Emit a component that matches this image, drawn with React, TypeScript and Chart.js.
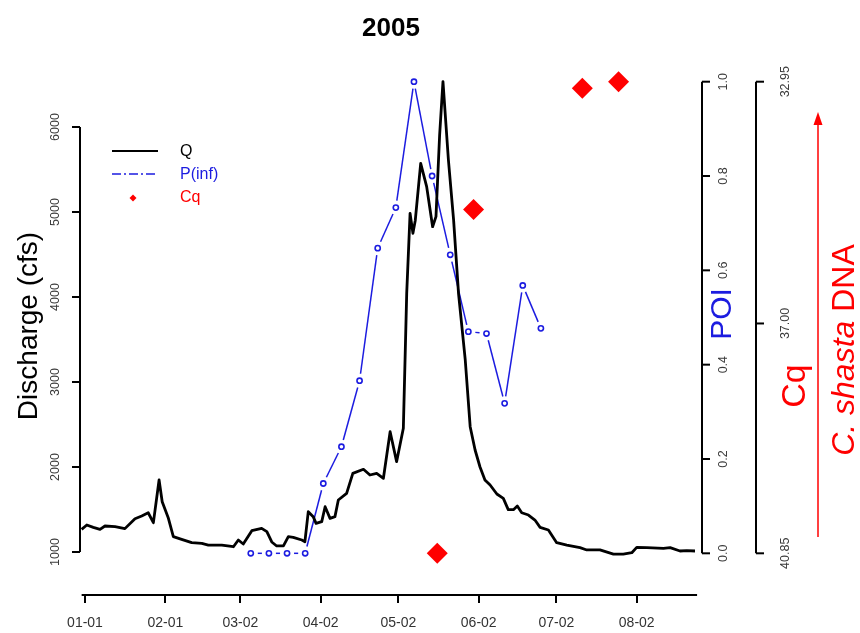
import React, { useEffect, useRef } from 'react';
import { Chart, registerables } from 'chart.js';

Chart.register(...registerables);

// ---------------- data ----------------
const chartTitle = '2005';

const xTickDays = [0, 31, 60, 91, 121, 152, 182, 213];
const xTickLabels = ['01-01', '02-01', '03-02', '04-02', '05-02', '06-02', '07-02', '08-02'];

const qTicks = [1000, 2000, 3000, 4000, 5000, 6000];
const poiTicks = [0, 0.2, 0.4, 0.6, 0.8, 1.0];
const poiTickLabels = ['0.0', '0.2', '0.4', '0.6', '0.8', '1.0'];
const cqTicks = [40.85, 37.0, 32.95];
const cqTickLabels = ['40.85', '37.00', '32.95'];

// Discharge Q (cfs), day of year (0 = Jan 1)
const qDays = [
  -1.3, 0.7, 3.2, 5.8, 7.7, 11.6, 15.4, 19.3, 21.9, 24.4, 26.4, 28.6, 29.8, 32.2, 34.1, 37.3,
  41.2, 45.1, 47.6, 52.8, 57.3, 59.2, 61.1, 64.4, 68.2, 70.2, 72.1, 74, 76.6, 78.5, 80.4, 83.7,
  84.9, 86.2, 88.1, 89.2, 91.4, 92.7, 94.6, 96.5, 97.8, 101, 103.4, 107.5, 110, 112.6, 115.2,
  117.8, 120.3, 122.9, 124.2, 125.5, 126.6, 127.5, 129.6, 131.9, 134.2, 135.5, 136.9, 138.2,
  140.3, 142.3, 144.2, 146.8, 148.7, 150.6, 152.5, 154.4, 156.4, 159, 161.5, 163.4, 165.4,
  166.9, 168.6, 171.2, 173.7, 175.7, 178.9, 182.1, 186, 191.1, 193.7, 198.8, 204, 207.8, 211.1,
  213, 216.9, 223.3, 225.9, 229.7, 232.3, 235.5,
];
const qValues = [
  1267, 1318, 1290, 1267, 1306, 1298, 1275, 1392, 1424, 1462, 1345, 1847, 1592, 1396, 1180, 1149,
  1110, 1102, 1082, 1082, 1062, 1141, 1094, 1251, 1278, 1239, 1118, 1071, 1071, 1180, 1173, 1141,
  1121, 1474, 1416, 1337, 1357, 1533, 1396, 1416, 1612, 1690, 1925, 1973, 1906, 1925, 1867,
  2415, 2063, 2455, 4043, 4984, 4750, 4900, 5573, 5298, 4827, 4945, 5900, 6533,
  5612, 4906, 4043, 3259, 2474, 2200, 2000, 1847, 1788, 1682, 1631, 1498, 1498,
  1541, 1462, 1435, 1376, 1290, 1259, 1110, 1082, 1051, 1024, 1024, 976, 976, 992,
  1055, 1051, 1043, 1051, 1012, 1016, 1012,
];

// Probability of infection, weekly samples
const poiDays = [64, 71, 78, 85, 92, 99, 106, 113, 120, 127, 134, 141, 148, 155, 162, 169, 176];
const poiValues = [0, 0, 0, 0, 0.148, 0.226, 0.366, 0.647, 0.733, 1.0, 0.8, 0.633, 0.47, 0.466, 0.318, 0.568, 0.477];

// Cq of C. shasta DNA
const cqDays = [136, 150, 192, 206];
const cqValues = [40.85, 35.09, 33.06, 32.95];

// axis line extent of the date axis (days)
const xAxisSpan = [-1.3, 236.3];

// ---------------- styling ----------------
const FONT = '"Liberation Sans", Arial, Helvetica, sans-serif';
const BLUE = '#1c1ce0';
const RED = '#ff0000';

function rotText(ctx: CanvasRenderingContext2D, text: string, x: number, y: number, font: string, color: string) {
  ctx.save();
  ctx.translate(x, y);
  ctx.rotate(-Math.PI / 2);
  ctx.font = font;
  ctx.fillStyle = color;
  ctx.textAlign = 'center';
  ctx.textBaseline = 'middle';
  ctx.fillText(text, 0, 0);
  ctx.restore();
}

function line(ctx: CanvasRenderingContext2D, x1: number, y1: number, x2: number, y2: number) {
  ctx.beginPath();
  ctx.moveTo(x1, y1);
  ctx.lineTo(x2, y2);
  ctx.stroke();
}

export default function App() {
  const ref = useRef<HTMLCanvasElement>(null);

  useEffect(() => {
    const canvas = ref.current!;

    const poiSegments = {
      id: 'poiSegments',
      beforeDatasetDraw(chart: any, args: any) {
        if (args.index !== 1) return;
        const ctx = chart.ctx as CanvasRenderingContext2D;
        const pts = chart.getDatasetMeta(1).data;
        const gap = 7;
        ctx.save();
        ctx.strokeStyle = BLUE;
        ctx.lineWidth = 1.5;
        for (let i = 0; i < pts.length - 1; i++) {
          const a = pts[i], b = pts[i + 1];
          const dx = b.x - a.x, dy = b.y - a.y;
          const len = Math.hypot(dx, dy);
          if (len <= 2 * gap + 1) continue;
          const ux = dx / len, uy = dy / len;
          line(ctx, a.x + ux * gap, a.y + uy * gap, b.x - ux * gap, b.y - uy * gap);
        }
        ctx.restore();
      },
    };

    const decorations = {
      id: 'decorations',
      afterDraw(chart: any) {
        const ctx = chart.ctx as CanvasRenderingContext2D;
        const area = chart.chartArea;
        const sx = chart.scales.x, sq = chart.scales.yQ, sp = chart.scales.yP, sc = chart.scales.yC;
        ctx.save();
        ctx.strokeStyle = '#000';
        ctx.lineWidth = 2;
        ctx.lineCap = 'butt';

        // date axis line
        line(ctx, sx.getPixelForValue(xAxisSpan[0]), area.bottom, sx.getPixelForValue(xAxisSpan[1]), area.bottom);

        // left axis (discharge)
        const lx = area.left;
        line(ctx, lx, sq.getPixelForValue(qTicks[0]), lx, sq.getPixelForValue(qTicks[qTicks.length - 1]));
        qTicks.forEach((t) => {
          const y = sq.getPixelForValue(t);
          line(ctx, lx - 8, y, lx, y);
          rotText(ctx, String(t), lx - 24, y, `12.5px ${FONT}`, '#3a3a3a');
        });
        rotText(ctx, 'Discharge (cfs)', 29, 326, `28px ${FONT}`, '#000');

        // POI axis
        const px = area.right;
        line(ctx, px, sp.getPixelForValue(0), px, sp.getPixelForValue(1));
        poiTicks.forEach((t, i) => {
          const y = sp.getPixelForValue(t);
          line(ctx, px, y, px + 8, y);
          rotText(ctx, poiTickLabels[i], px + 22, y, `12.5px ${FONT}`, '#3a3a3a');
        });
        rotText(ctx, 'POI', px + 21, 314, `30px ${FONT}`, BLUE);

        // Cq axis
        const cx = px + 54;
        line(ctx, cx, sc.getPixelForValue(cqTicks[0]), cx, sc.getPixelForValue(cqTicks[cqTicks.length - 1]));
        cqTicks.forEach((t, i) => {
          const y = sc.getPixelForValue(t);
          line(ctx, cx, y, cx + 8, y);
          rotText(ctx, cqTickLabels[i], cx + 30, y, `12.5px ${FONT}`, '#3a3a3a');
        });
        rotText(ctx, 'Cq', 796, 386, `34px ${FONT}`, RED);

        // arrow
        ctx.strokeStyle = RED;
        ctx.fillStyle = RED;
        ctx.lineWidth = 1.5;
        line(ctx, 818, 537, 818, 122);
        ctx.beginPath();
        ctx.moveTo(818, 112);
        ctx.lineTo(822.5, 125);
        ctx.lineTo(813.5, 125);
        ctx.closePath();
        ctx.fill();

        // C. shasta DNA (partly italic), rotated
        ctx.save();
        ctx.translate(845, 350);
        ctx.rotate(-Math.PI / 2);
        const fItal = `italic 32px ${FONT}`;
        const fNorm = `32px ${FONT}`;
        ctx.font = fItal;
        const w1 = ctx.measureText('C. shasta').width;
        ctx.font = fNorm;
        const w2 = ctx.measureText(' DNA').width;
        const start = -(w1 + w2) / 2;
        ctx.textBaseline = 'middle';
        ctx.textAlign = 'left';
        ctx.fillStyle = RED;
        ctx.font = fItal;
        ctx.fillText('C. shasta', start, 0);
        ctx.font = fNorm;
        ctx.fillText(' DNA', start + w1, 0);
        ctx.restore();

        // title
        ctx.font = `bold 26px ${FONT}`;
        ctx.fillStyle = '#000';
        ctx.textAlign = 'center';
        ctx.textBaseline = 'middle';
        ctx.fillText(chartTitle, (area.left + area.right) / 2, 29);

        // legend
        ctx.textAlign = 'left';
        ctx.font = `16px ${FONT}`;
        ctx.strokeStyle = '#000';
        ctx.lineWidth = 2;
        line(ctx, 112, 151, 158, 151);
        ctx.fillStyle = '#000';
        ctx.fillText('Q', 180, 152);
        ctx.strokeStyle = BLUE;
        ctx.lineWidth = 1.5;
        ctx.setLineDash([9, 3, 2, 3]);
        line(ctx, 112, 174, 158, 174);
        ctx.setLineDash([]);
        ctx.fillStyle = BLUE;
        ctx.fillText('P(inf)', 180, 175);
        ctx.fillStyle = RED;
        ctx.beginPath();
        ctx.moveTo(133, 194.5);
        ctx.lineTo(136.5, 198);
        ctx.lineTo(133, 201.5);
        ctx.lineTo(129.5, 198);
        ctx.closePath();
        ctx.fill();
        ctx.fillText('Cq', 180, 198);

        ctx.restore();
      },
    };

    const chart = new Chart(canvas, {
      type: 'line',
      data: {
        datasets: [
          {
            label: 'Q',
            data: qDays.map((d, i) => ({ x: d, y: qValues[i] })),
            yAxisID: 'yQ',
            borderColor: '#000',
            borderWidth: 2.8,
            pointRadius: 0,
            tension: 0,
            fill: false,
            borderJoinStyle: 'round',
          },
          {
            label: 'P(inf)',
            data: poiDays.map((d, i) => ({ x: d, y: poiValues[i] })),
            yAxisID: 'yP',
            showLine: false,
            borderColor: BLUE,
            backgroundColor: 'rgba(0,0,0,0)',
            pointRadius: 2.6,
            pointBorderWidth: 1.6,
            pointBorderColor: BLUE,
            pointBackgroundColor: 'rgba(0,0,0,0)',
          },
          {
            label: 'Cq',
            data: cqDays.map((d, i) => ({ x: d, y: cqValues[i] })),
            yAxisID: 'yC',
            showLine: false,
            pointStyle: 'rectRot',
            pointRadius: 10.5,
            pointBorderWidth: 0,
            pointBackgroundColor: RED,
            pointBorderColor: RED,
            borderColor: RED,
            backgroundColor: RED,
          },
        ] as any,
      },
      options: {
        responsive: false,
        animation: false,
        devicePixelRatio: 1,
        layout: { padding: { left: 80, right: 158, top: 60, bottom: 0 } },
        plugins: {
          legend: { display: false },
          tooltip: { enabled: false },
          title: { display: false },
        },
        elements: { line: { clip: false } as any },
        scales: {
          x: {
            type: 'linear',
            min: -1.93,
            max: 238.2,
            afterBuildTicks: (s: any) => {
              s.ticks = xTickDays.map((v) => ({ value: v }));
            },
            afterFit: (s: any) => {
              s.height = 38;
            },
            border: { display: false },
            grid: { drawOnChartArea: false, drawTicks: true, tickLength: 8, color: '#000', lineWidth: 2 },
            ticks: {
              autoSkip: false,
              maxRotation: 0,
              minRotation: 0,
              padding: 12,
              color: '#333',
              font: { family: FONT, size: 14 },
              callback: (_v: any, i: number) => xTickLabels[i],
            },
          },
          yQ: { type: 'linear', position: 'left', display: false, min: 494.1, max: 6788.2 },
          yP: { type: 'linear', position: 'right', display: false, min: -0.0884, max: 1.046 },
          yC: { type: 'linear', position: 'right', display: false, reverse: true, min: 32.5865, max: 41.5485 },
        },
      } as any,
      plugins: [poiSegments, decorations],
    });
    return () => chart.destroy();
  }, []);

  return (
    <div style={{ position: 'fixed', left: 0, top: 0, width: 860, height: 633, background: '#fff' }}>
      <canvas ref={ref} width={860} height={633} style={{ display: 'block' }} />
    </div>
  );
}
